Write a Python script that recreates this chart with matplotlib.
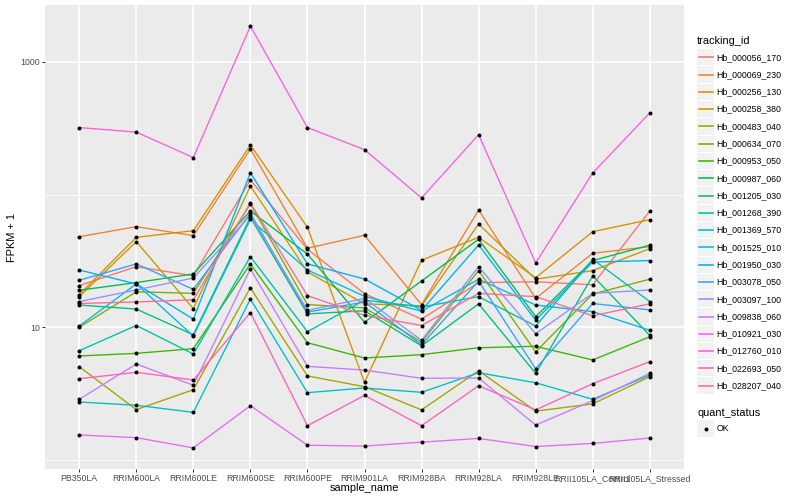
import matplotlib
matplotlib.use("Agg")
import matplotlib.pyplot as plt
from matplotlib.lines import Line2D
from matplotlib.patches import Rectangle
from matplotlib.ticker import FixedLocator, FixedFormatter, NullFormatter

plt.rcParams["font.family"] = ["Liberation Sans", "DejaVu Sans"]

# x categories
SAMPLES = ["PB350LA", "RRIM600LA", "RRIM600LE", "RRIM600SE", "RRIM600PE",
           "RRIM901LA", "RRIM928BA", "RRIM928LA", "RRIM928LE",
           "RRII105LA_Control", "RRII105LA_Stressed"]

# FPKM + 1 per gene, one value per sample
hb_000056_170 = [20.6, 28.6, 24.4, 128.9, 38.7, 17.9, 11.5, 21.7, 22.0, 20.9, 75.2]
hb_000069_230 = [48.1, 57.3, 49.0, 220.8, 39.4, 49.3, 14.8, 76.5, 16.5, 36.1, 40.5]
hb_000256_130 = [17.6, 47.6, 53.4, 236.6, 56.6, 3.84, 32.0, 47.6, 23.6, 52.5, 64.7]
hb_000258_380 = [17.0, 44.2, 13.8, 116.1, 26.1, 15.0, 14.5, 60.0, 23.0, 26.7, 39.1]
hb_000483_040 = [5.04, 2.39, 3.38, 19.8, 4.29, 3.56, 2.38, 4.70, 2.33, 2.64, 4.24]
hb_000634_070 = [9.98, 18.5, 18.0, 84.9, 14.8, 14.0, 7.73, 26.7, 6.53, 17.8, 23.0]
hb_000953_050 = [6.07, 6.35, 6.89, 30.0, 7.64, 5.86, 6.21, 7.00, 7.18, 5.66, 8.47]
hb_000987_060 = [19.0, 21.7, 25.2, 75.2, 35.6, 10.9, 22.3, 46.0, 12.0, 31.8, 41.5]
hb_001205_030 = [14.7, 13.7, 8.77, 67.4, 12.6, 13.3, 7.24, 15.0, 4.49, 24.4, 8.69]
hb_001268_390 = [6.65, 10.3, 6.28, 34.0, 9.25, 16.0, 14.2, 17.0, 10.2, 32.5, 15.6]
hb_001369_570 = [2.73, 2.58, 2.28, 16.3, 3.21, 3.48, 3.23, 4.54, 3.81, 2.86, 4.36]
hb_001525_010 = [10.2, 21.2, 8.58, 65.1, 27.0, 17.1, 13.2, 23.0, 14.7, 13.1, 9.48]
hb_001950_030 = [27.0, 21.2, 11.5, 146.2, 30.0, 23.1, 13.4, 41.7, 11.3, 31.0, 31.8]
hb_003078_050 = [22.6, 30.0, 19.3, 72.2, 13.0, 15.5, 7.38, 22.3, 4.86, 15.1, 13.5]
hb_003097_100 = [15.6, 19.1, 23.5, 69.8, 13.4, 16.5, 7.96, 28.6, 8.93, 18.0, 19.1]
hb_009838_060 = [2.86, 5.28, 3.65, 27.5, 5.07, 4.75, 4.12, 4.14, 1.83, 2.79, 4.49]
hb_010921_030 = [1.54, 1.47, 1.23, 2.56, 1.29, 1.27, 1.36, 1.45, 1.26, 1.33, 1.46]
hb_012760_010 = [320, 296, 190, 1860, 320, 218, 94.3, 283, 30.5, 145.5, 413]
hb_022693_050 = [4.09, 4.57, 4.00, 12.9, 1.81, 3.06, 1.81, 3.62, 2.38, 3.75, 5.50]
hb_028207_040 = [15.1, 15.5, 16.1, 86.4, 17.3, 12.3, 10.3, 18.0, 17.0, 12.2, 15.0]

TRACKING_IDS = ["Hb_000056_170", "Hb_000069_230", "Hb_000256_130", "Hb_000258_380",
                "Hb_000483_040", "Hb_000634_070", "Hb_000953_050", "Hb_000987_060",
                "Hb_001205_030", "Hb_001268_390", "Hb_001369_570", "Hb_001525_010",
                "Hb_001950_030", "Hb_003078_050", "Hb_003097_100", "Hb_009838_060",
                "Hb_010921_030", "Hb_012760_010", "Hb_022693_050", "Hb_028207_040"]
FPKM1 = [hb_000056_170, hb_000069_230, hb_000256_130, hb_000258_380, hb_000483_040,
         hb_000634_070, hb_000953_050, hb_000987_060, hb_001205_030, hb_001268_390,
         hb_001369_570, hb_001525_010, hb_001950_030, hb_003078_050, hb_003097_100,
         hb_009838_060, hb_010921_030, hb_012760_010, hb_022693_050, hb_028207_040]
QUANT_STATUS = ["OK"]

# ggplot2 default hue palette, 20 levels
HUE = ["#F8766D", "#EA8331", "#D89000", "#C09B00", "#A3A500", "#7CAE00", "#39B600",
       "#00BB4E", "#00BF7D", "#00C1A3", "#00BFC4", "#00BAE0", "#00B0F6", "#35A2FF",
       "#9590FF", "#C77CFF", "#E76BF3", "#FA62DB", "#FF62BC", "#FF6C90"]
PANEL_BG = "#EBEBEB"
KEY_BG = "#F2F2F2"
TICK_TXT = "#4D4D4D"
TICK_MARK = "#333333"

W, H = 800, 500
PX = 72 / 100  # one pixel in points at dpi=100
LINE_W = 1.35 * PX
DOT = 4.0 * PX


def fx(x):
    return x / W


def fy(y):
    return 1 - y / H


fig = plt.figure(figsize=(8, 5), dpi=100)
fig.patch.set_facecolor("white")
ax = fig.add_axes([fx(45), fy(469), fx(684) - fx(45), fy(5) - fy(469)])
ax.set_facecolor(PANEL_BG)

for tid, vals, col in zip(TRACKING_IDS, FPKM1, HUE):
    ax.plot(SAMPLES, vals, color=col, lw=LINE_W, zorder=2)
for vals in FPKM1:
    ax.plot(SAMPLES, vals, ls="none", marker="o", ms=DOT, color="black",
            markeredgewidth=0, zorder=3)

ax.set_yscale("log")
ax.set_ylim(0.853, 2687)
ax.set_xlim(-0.6, len(SAMPLES) - 0.4)
ax.yaxis.set_major_locator(FixedLocator([10, 1000]))
ax.yaxis.set_major_formatter(FixedFormatter(["10", "1000"]))
ax.yaxis.set_minor_locator(FixedLocator([1, 100]))
ax.yaxis.set_minor_formatter(NullFormatter())

ax.set_axisbelow(True)
ax.grid(which="major", color="white", lw=1.6 * PX)
ax.grid(which="minor", axis="y", color="white", lw=0.8 * PX)
for s in ax.spines.values():
    s.set_visible(False)

ax.tick_params(which="major", length=2.75 * PX, width=1.0 * PX, color=TICK_MARK,
               labelcolor=TICK_TXT, labelsize=8.8 * PX, pad=2.2 * PX)
ax.tick_params(which="minor", length=0)

fig.text(fx(364.5), fy(488), "sample_name", fontsize=11 * PX, ha="center", va="center")
fig.text(fx(12), fy(237), "FPKM + 1", fontsize=11 * PX, rotation=90, ha="center", va="center")

# legend: tracking_id
fig.text(fx(697), fy(40.5), "tracking_id", fontsize=11 * PX, ha="left", va="center")
row0, step, key = 57.3, 17.28, 17.28
for i, (tid, col) in enumerate(zip(TRACKING_IDS, HUE)):
    cy = row0 + i * step
    fig.add_artist(Rectangle((fx(697), fy(cy + key / 2 - 0.5)), key / W, (key - 1) / H,
                             transform=fig.transFigure, facecolor=KEY_BG, edgecolor="none"))
    fig.add_artist(Line2D([fx(698.5), fx(712.8)], [fy(cy), fy(cy)], color=col,
                          lw=1.6 * PX, transform=fig.transFigure))
    fig.text(fx(716.7), fy(cy), tid, fontsize=8.8 * PX, ha="left", va="center")

# legend: quant_status
fig.text(fx(697), fy(412.7), "quant_status", fontsize=11 * PX, ha="left", va="center")
for i, qs in enumerate(QUANT_STATUS):
    cy = 428.5 + i * step
    fig.add_artist(Rectangle((fx(697), fy(cy + key / 2 - 0.5)), key / W, (key - 1) / H,
                             transform=fig.transFigure, facecolor=KEY_BG, edgecolor="none"))
    fig.add_artist(Line2D([fx(705.6)], [fy(cy)], ls="none", marker="o", ms=DOT,
                          markeredgewidth=0, color="black", transform=fig.transFigure))
    fig.text(fx(716.7), fy(cy), qs, fontsize=8.8 * PX, ha="left", va="center")

fig.savefig("out.png", dpi=100, facecolor="white")
